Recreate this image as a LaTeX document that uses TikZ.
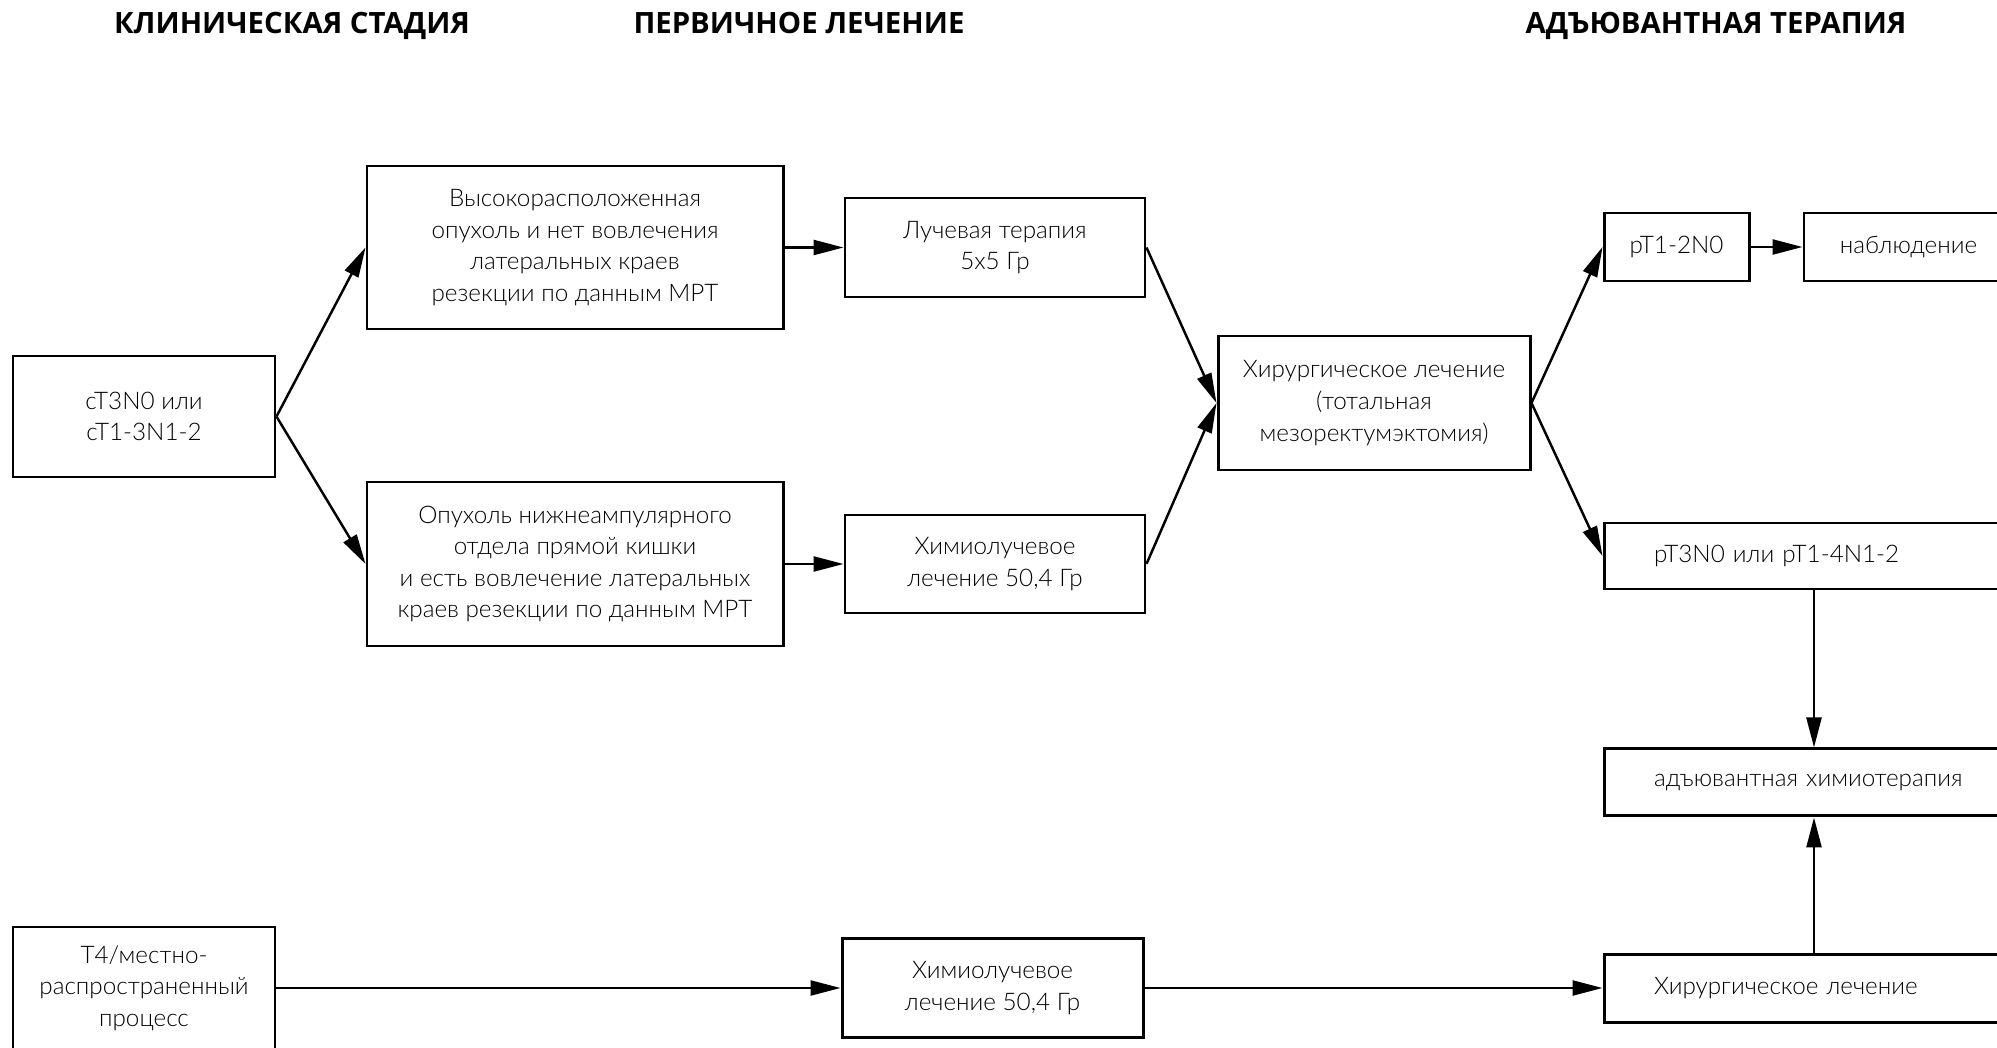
\documentclass[tikz,border=0pt]{standalone}
\usepackage{fontspec}
\setmainfont{Lato Light}
\newfontfamily\headfont{Open Sans}
\usetikzlibrary{positioning,arrows.meta}

\begin{document}
\begin{tikzpicture}[node distance=0.59cm,
    box/.style={draw,line width=0.85pt,align=center,inner sep=0pt,font=\fontsize{6.9}{9}\selectfont},
    hd/.style={anchor=base,font=\headfont\bfseries\fontsize{8.35}{10}\selectfont},
    arr/.style={-{Triangle[length=0.3cm,width=0.15cm]},line width=0.7pt}]
    \useasboundingbox (0,0) rectangle (19.97,10.47);
    \clip (0,0) rectangle (19.97,10.47);
    % column headings
    \node[hd] (hstage) at (2.92,10.13) {КЛИНИЧЕСКАЯ СТАДИЯ};
    \node[hd] (hprim) at (7.99,10.13) {ПЕРВИЧНОЕ ЛЕЧЕНИЕ};
    \node[hd] (hadj) at (17.16,10.13) {АДЪЮВАНТНАЯ ТЕРАПИЯ};
    % upper branch
    \node[box,minimum width=2.62cm,minimum height=1.21cm] (ct3) at (1.44,6.305) {cT3N0 или\\cT1-3N1-2};
    \node[box,minimum width=4.16cm,minimum height=1.63cm] (high) at (5.75,7.995) {Высокорасположенная\\опухоль и нет вовлечения\\латеральных краев\\резекции по данным МРТ};
    \node[box,minimum width=4.16cm,minimum height=1.64cm] (low) at (5.75,4.83) {Опухоль нижнеампулярного\\отдела прямой кишки\\и есть вовлечение латеральных\\краев резекции по данным МРТ};
    \node[box,right=of high,minimum width=3cm,minimum height=0.99cm] (rad) {Лучевая терапия\\5x5 Гр};
    \node[box,right=of low,minimum width=3cm,minimum height=0.98cm] (chema) {Химиолучевое\\лечение 50,4 Гр};
    \node[box,minimum width=3.12cm,minimum height=1.34cm] (surga) at (13.74,6.44) {Хирургическое лечение\\(тотальная\\мезоректумэктомия)};
    \node[box,minimum width=1.45cm,minimum height=0.68cm] (pt12) at (16.765,8.0) {pT1-2N0};
    \node[box,right=0.52cm of pt12,minimum width=2.09cm,minimum height=0.68cm] (obs) {наблюдение};
    \node[box,align=left,text width=3.2cm,minimum width=4.2cm,minimum height=0.66cm] (pt3) at (18.14,4.91) {pT3N0 или pT1-4N1-2};
    \node[box,align=left,text width=3.2cm,below=1.57cm of pt3,minimum width=4.2cm,minimum height=0.67cm] (adj) {адъювантная химиотерапия};
    % lower branch
    \node[box,minimum width=2.62cm,minimum height=1.22cm] (t4) at (1.44,0.59) {T4/местно-\\распространенный\\процесс};
    \node[box,minimum width=3.01cm,minimum height=0.99cm] (chemb) at (9.925,0.59) {Химиолучевое\\лечение 50,4 Гр};
    \node[box,align=left,text width=3.2cm,minimum width=4.2cm,minimum height=0.68cm] (surgb) at (18.14,0.59) {Хирургическое лечение};

    \draw[arr] (ct3.east) -- (high.west);
    \draw[arr] (ct3.east) -- (low.west);
    \draw[arr] (high) -- (rad);
    \draw[arr] (low) -- (chema);
    \draw[arr] (rad.east) -- (surga.west);
    \draw[arr] (chema.east) -- (surga.west);
    \draw[arr] (surga.east) -- (pt12.west);
    \draw[arr] (surga.east) -- (pt3.west);
    \draw[arr] (pt12) -- (obs);
    \draw[arr] (pt3) -- (adj);
    \draw[arr] (t4) -- (chemb);
    \draw[arr] (chemb) -- (surgb);
    \draw[arr] (surgb) -- (adj);
\end{tikzpicture}
\end{document}
